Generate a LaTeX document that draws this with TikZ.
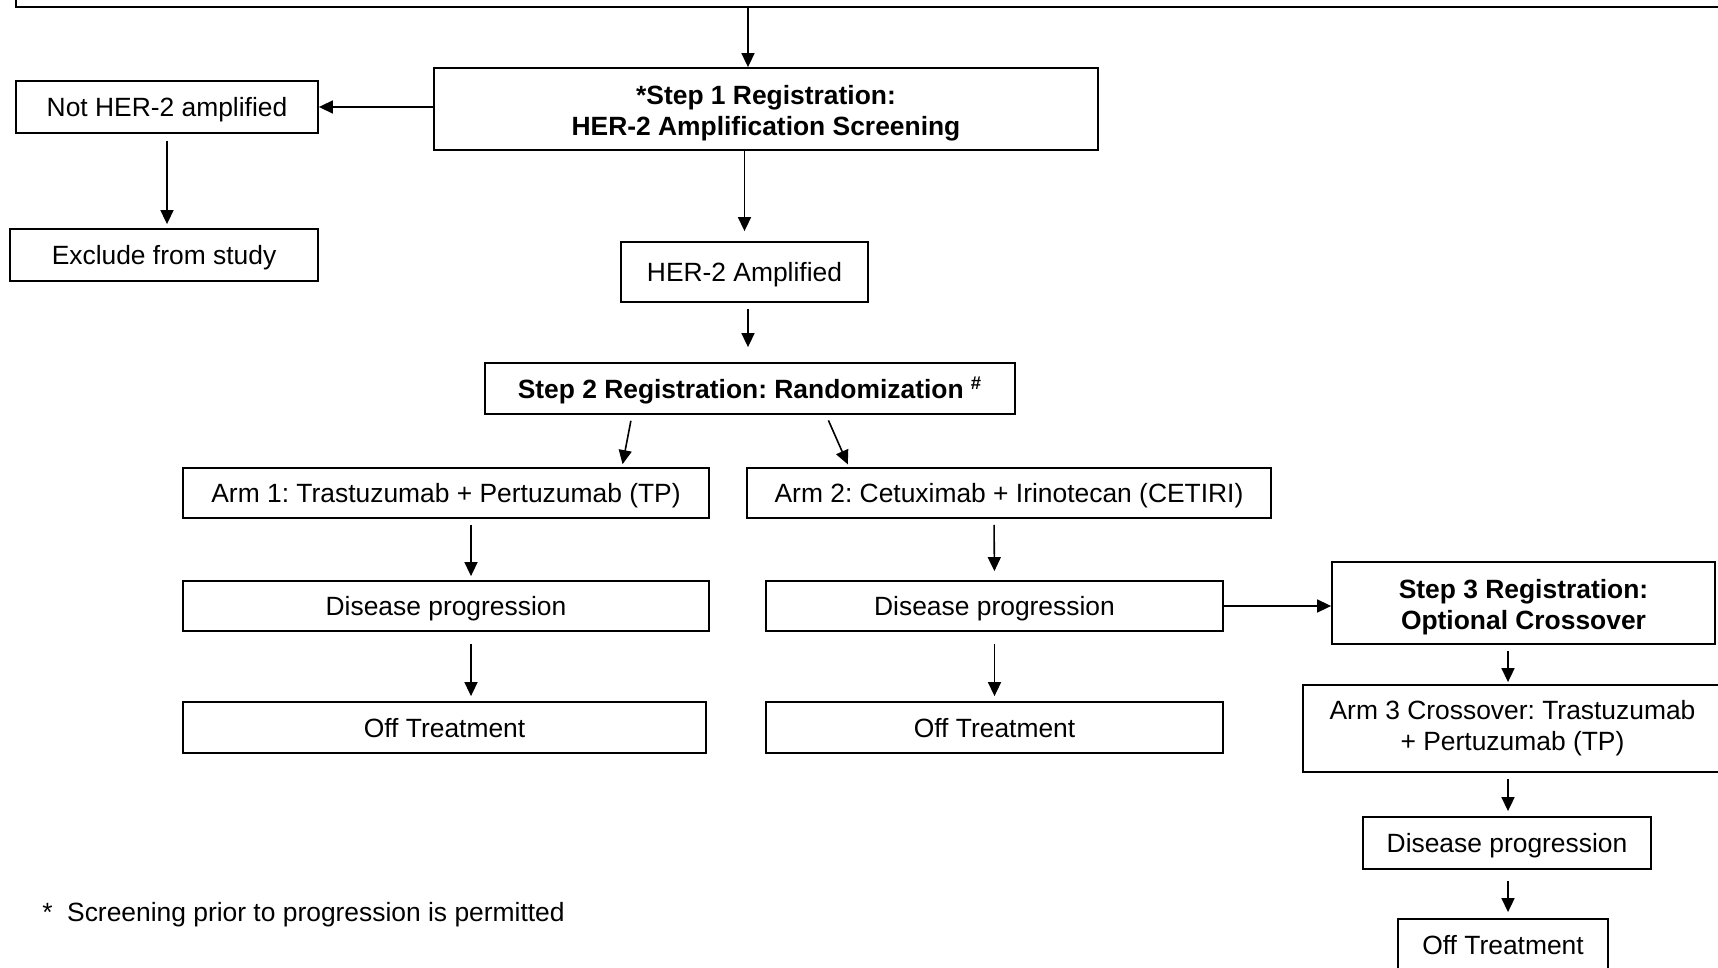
\documentclass[tikz,border=0pt]{standalone}
\usepackage{fontspec}
\setmainfont{Liberation Sans}
\usetikzlibrary{arrows.meta,calc,positioning}
\frenchspacing
\newcommand{\toplift}{\rule{0pt}{14pt}}

\begin{document}
\begin{tikzpicture}[
      x=0.5pt, y=-0.5pt,
      box/.style={rectangle, draw=black, line width=0.9pt, fill=white, inner sep=0pt,
                  align=center, font=\fontsize{13.2pt}{15.4pt}\selectfont},
      bold/.style={box, font=\fontsize{13.2pt}{15.6pt}\selectfont\bfseries},
      single/.style={text height=9.5pt, text depth=0pt},
      arrow/.style={-{Triangle[width=6.5pt,length=7pt]}, line width=0.8pt, color=black}
    ]
      \useasboundingbox (0,0) rectangle (1718,968);
      \clip (0,0) rectangle (1718,968);
      \fill[white] (0,0) rectangle (1718,968);
      %% screening branch
      \node[box, minimum width=862pt, minimum height=18.5pt] (top) at (878,-11.5) {};
      \node[bold, minimum width=332pt, minimum height=41pt] (step1) at (766,109)
          {\toplift*Step 1 Registration:\\HER-2 Amplification Screening};
      \node[box, single, minimum width=151pt, minimum height=26pt] (nothr) at (167,107)
          {Not HER-2 amplified};
      \node[box, single, minimum width=154pt, minimum height=26pt] (excl) at (164,255)
          {Exclude from study};
      \node[box, single, minimum width=123.5pt, minimum height=30pt] (amp) at (744.5,272)
          {HER-2 Amplified};
      \node[bold, single, minimum width=265pt, minimum height=25.5pt] (step2) at (750,388.5)
          {Step 2 Registration: Randomization \textsuperscript{\#}};
      %% arm 1
      \node[box, single, minimum width=263pt, minimum height=25pt] (arm1) at (446,493)
          {Arm 1: Trastuzumab + Pertuzumab (TP)};
      \node[box, single, minimum width=263pt, minimum height=25pt] (dp1) at (446,606)
          {Disease progression};
      \node[box, single, minimum width=261.5pt, minimum height=25.5pt] (off1) at (444.5,727.5)
          {Off Treatment};
      %% arm 2
      \node[box, single, minimum width=262pt, minimum height=25pt] (arm2) at (1009,493)
          {Arm 2: Cetuximab + Irinotecan (CETIRI)};
      \node[box, single, minimum width=228.5pt, minimum height=25pt] (dp2) at (994.5,606)
          {Disease progression};
      \node[box, single, minimum width=228.5pt, minimum height=25.5pt] (off2) at (994.5,727.5)
          {Off Treatment};
      %% crossover
      \node[bold, minimum width=191.5pt, minimum height=41pt] (step3) at (1523.5,603)
          {\toplift Step 3 Registration:\\Optional Crossover};
      \node[box, minimum width=209.5pt, minimum height=43.5pt] (arm3) at (1512.5,728.5)
          {Arm 3 Crossover: Trastuzumab\\+ Pertuzumab (TP)};
      \node[box, single, minimum width=144pt, minimum height=26pt] (dp3) at (1507,843)
          {Disease progression};
      \node[box, single, minimum width=105pt, minimum height=26pt] (off3) at (1503,945)
          {Off Treatment};
      %% footnote
      \node[anchor=west, inner sep=0pt, font=\fontsize{13.2pt}{15.2pt}\selectfont] (note)
          at (42,915) {*\hspace{0.55em}Screening prior to progression is permitted};
      %% connectors
      \draw[arrow] ($(step1.north |- top.south)+(-18,0)$) -- ($(step1.north)+(-18,0)$);
      \draw[arrow] (step1.west |- nothr.east) -- (nothr.east);
      \draw[arrow, shorten <=3.5pt, shorten >=2pt] (nothr.south) -- (nothr.south |- excl.north);
      \draw[arrow, shorten >=5pt] (step1.south -| amp.north) -- (amp.north);
      \draw[arrow, shorten <=3pt, shorten >=7.5pt]
          ($(amp.south)+(3.5,0)$) -- ($(amp.south |- step2.north)+(3.5,0)$);
      \draw[arrow, shorten <=3pt, shorten >=1.5pt]
          ($(step2.south)+(-118,0)$) -- ($(arm1.north)+(176,0)$);
      \draw[arrow, shorten <=3pt, shorten >=1.5pt]
          ($(step2.south)+(76,0)$) -- ($(arm2.north)+(-160,0)$);
      \draw[arrow, shorten <=3pt, shorten >=2pt]
          ($(arm1.south)+(25,0)$) -- ($(dp1.north)+(25,0)$);
      \draw[arrow, shorten <=6pt, shorten >=2.5pt]
          ($(dp1.south)+(25,0)$) -- ($(off1.north)+(26.5,0)$);
      \draw[arrow, shorten <=3pt, shorten >=4.5pt]
          ($(arm2.south)+(-15,0)$) -- (dp2.north);
      \draw[arrow, shorten <=6pt, shorten >=2.5pt] (dp2.south) -- (off2.north);
      \draw[arrow] (dp2.east) -- (dp2.east -| step3.west);
      \draw[arrow, shorten <=3pt, shorten >=1pt]
          ($(step3.south)+(-15.5,0)$) -- ($(arm3.north)+(-4.5,0)$);
      \draw[arrow, shorten <=3pt, shorten >=2.5pt]
          ($(arm3.south)+(-4.5,0)$) -- ($(dp3.north)+(1,0)$);
      \draw[arrow, shorten <=5.5pt, shorten >=3pt]
          ($(dp3.south)+(1,0)$) -- ($(off3.north)+(5,0)$);
    \end{tikzpicture}
\end{document}
